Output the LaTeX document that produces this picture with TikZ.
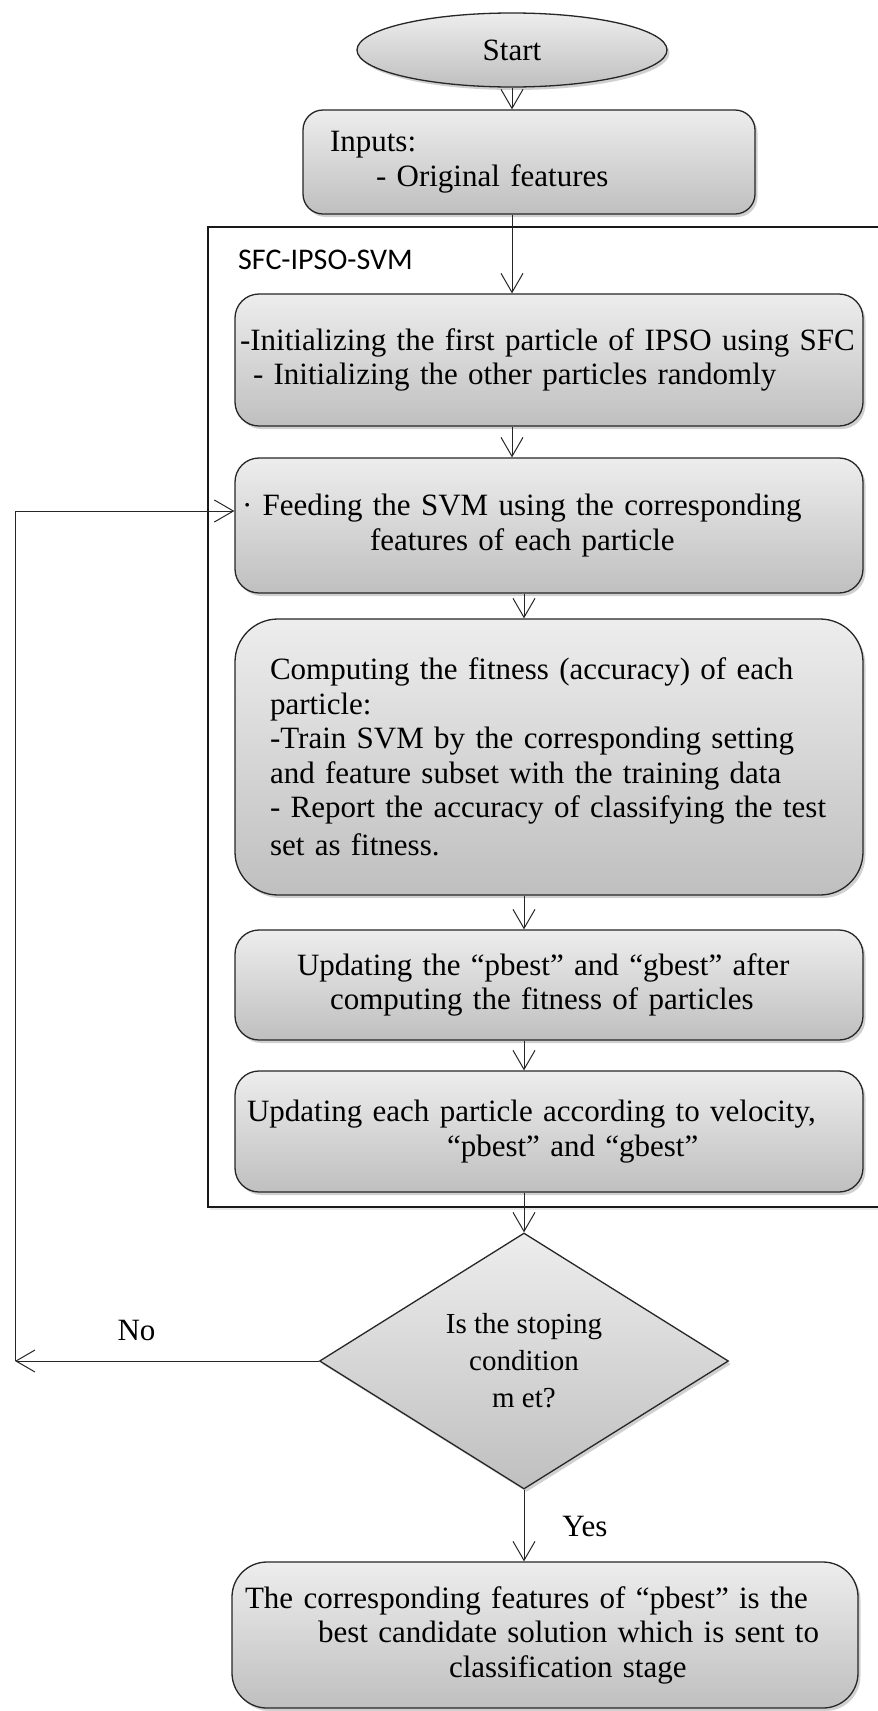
\documentclass[tikz,border=0pt]{standalone}
\usepackage{fontspec}
\setmainfont{Liberation Serif}
\newfontfamily\labelsans{Carlito}
\usetikzlibrary{shapes.geometric,arrows.meta,shadows,calc}

\tikzset{
  txt/.style={font=\fontsize{31}{34.5}\selectfont},
  shadowed/.style={drop shadow={shadow xshift=2.5pt, shadow yshift=-3pt, opacity=0.3, fill=black!60}},
  box/.style={txt, draw=black!85, line width=1.3pt, top color=gray!14, bottom color=gray!50,
    inner sep=0pt, align=left, rounded corners=24pt, shadowed},
  startshape/.style={txt, ellipse, draw=black!85, line width=1.3pt, top color=gray!14, bottom color=gray!50,
    inner sep=0pt, minimum width=310pt, minimum height=74pt, shadowed},
  decision/.style={font=\fontsize{29}{37}\selectfont, diamond, draw=black!85, line width=1.3pt,
    top color=gray!14, bottom color=gray!50, inner sep=0pt, align=center,
    minimum width=409pt, minimum height=256pt, shadowed},
  frame/.style={draw=black!90, line width=1.5pt, fill=white, inner sep=0pt,
    drop shadow={shadow xshift=2pt, shadow yshift=-3pt, opacity=0.15, fill=black!60}},
  arr/.style={draw=black!85, line width=1pt, -{Straight Barb[length=19pt,width=22pt]}},
  lbl/.style={txt, inner sep=0pt},
}

\begin{document}
\begin{tikzpicture}[x=1pt, y=-1pt]
\useasboundingbox (0,0) rectangle (878,1711);
\clip (0,0) rectangle (878,1711);
\fill[white] (0,0) rectangle (878,1711);

% SFC-IPSO-SVM frame (right side runs off the page)
\node[frame, minimum width=700pt, minimum height=980pt] (frame) at (558,717) {};
\node[anchor=base west, inner sep=0pt, font=\labelsans\fontsize{30}{36}\selectfont] (title) at (238,269) {SFC-IPSO-SVM};

\node[startshape] (start) at (512,50) {Start};

\node[box, rounded corners=20pt, text width=452pt, minimum height=104pt] (in) at (529,162)
  {\hspace*{27pt}Inputs:\\\hspace*{73pt}- Original features};

\node[box, text width=628pt, minimum height=132pt] (b1) at (549,360)
  {\hspace*{5pt}-Initializing the first particle of IPSO using SFC\\\hspace*{18pt}- Initializing the other particles randomly};

\node[box, text width=628pt, minimum height=135pt] (b2) at (549,525.5)
  {\hspace*{7pt}· Feeding the SVM using the corresponding\\\hspace*{135pt}features of each particle};

\node[box, rounded corners=43pt, text width=628pt, minimum height=276pt] (b3) at (549,757)
  {\hspace*{35pt}Computing the fitness (accuracy) of each\\
   \hspace*{35pt}particle:\\
   \hspace*{35pt}-Train SVM by the corresponding setting\\
   \hspace*{35pt}and feature subset with the training data\\
   \hspace*{35pt}- Report the accuracy of classifying the test\\[3pt]
   \hspace*{35pt}set as fitness.};

\node[box, text width=628pt, minimum height=110pt] (b4) at (549,985)
  {\hspace*{62pt}Updating the “pbest” and “gbest” after\\\hspace*{95pt}computing the fitness of particles};

\node[box, text width=628pt, minimum height=121pt] (b5) at (549,1131.5)
  {\hspace*{12pt}Updating each particle according to velocity,\\\hspace*{212pt}“pbest” and “gbest”};

\node[decision] (d) at (524,1361) {Is the stoping\\condition\\m et?};

\node[box, rounded corners=35pt, text width=626pt, minimum height=146pt] (fin) at (545,1635)
  {\hspace*{13pt}The corresponding features of “pbest” is the\\\hspace*{86pt}best candidate solution which is sent to\\\hspace*{217pt}classification stage};

% connectors
\draw[arr] (start.south) -- (start.south |- in.north);
\draw[arr] (in.south -| start) -- (b1.north -| start);
\draw[arr] (b1.south -| start) -- (b2.north -| start);
\draw[arr] (b2.south -| d) -- (b3.north -| d);
\draw[arr] (b3.south -| d) -- (b4.north -| d);
\draw[arr] (b4.south -| d) -- (b5.north -| d);
\draw[arr] (b5.south -| d) -- (d.north);
\draw[arr] (d.south) -- node[lbl, pos=0.52, xshift=61pt] (yes) {Yes} (fin.north -| d);

\coordinate (loopB) at (15,1361);
\coordinate (loopT) at (15,511);
\draw[arr] (d.west) -- node[lbl, pos=0.6, yshift=31pt] (no) {No} (loopB);
\draw[arr] (loopB) -- (loopT) -- (loopT -| b2.west);
\end{tikzpicture}
\end{document}
